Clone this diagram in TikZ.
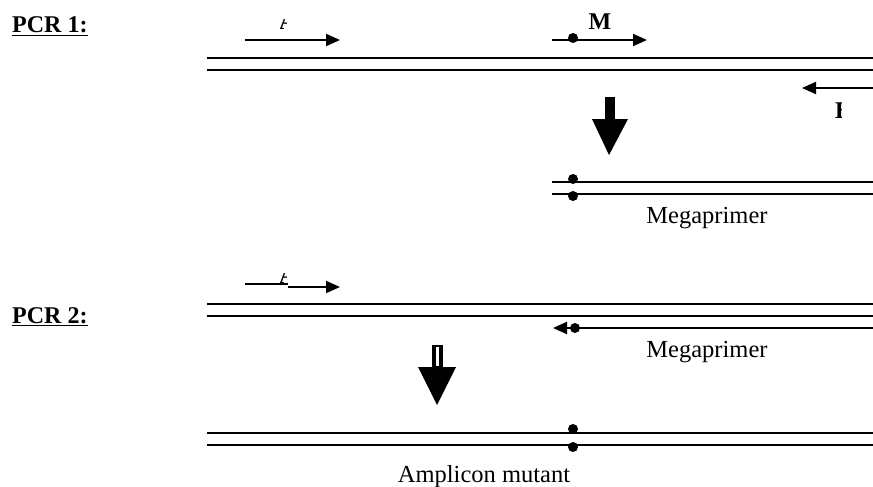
\documentclass[tikz,border=0pt]{standalone}
\usepackage{fontspec}
\setmainfont{Liberation Serif}
\usetikzlibrary{arrows.meta}
\begin{document}
\begin{tikzpicture}[x=1pt,y=-1pt,
  strand/.style={line width=2pt},
  primer/.style={line width=2pt,-{Triangle[length=14pt,width=12pt]}},
  snp/.style={circle,fill=black,inner sep=0pt,minimum size=10pt},
  lbl/.style={inner sep=0pt,font=\fontsize{24.5}{28}\selectfont},
  heading/.style={inner sep=0pt,font=\fontsize{24}{28}\selectfont\bfseries},
  bigarrow/.style={fill=black}]
\useasboundingbox (0,0) rectangle (873,487);

% ---------- PCR 1 ----------
\node[heading,anchor=base west] (pcr1) at (12,33) {\underline{PCR 1:}};

% template strands
\coordinate (s1a) at (207,58); \coordinate (s1b) at (873,58);
\coordinate (s2a) at (207,70); \coordinate (s2b) at (873,70);
\draw[strand] (s1a) -- (s1b);
\draw[strand] (s2a) -- (s2b);

% forward primer A
\coordinate (a1s) at (245,40); \coordinate (a1e) at (340,40);
\draw[primer] (a1s) -- (a1e);
\begin{scope}
  \clip (280,20) rectangle (286.5,31);
  \node[heading,anchor=base west] (a1lbl) at (279,30) {A};
\end{scope}

% mutagenic primer M
\coordinate (m1s) at (552,40); \coordinate (m1e) at (647,40);
\draw[primer] (m1s) -- (m1e);
\node[snp] (m1dot) at (573,38) {};
\node[heading,anchor=base] (mlbl) at (600,30) {M};

% reverse primer B
\coordinate (b1s) at (873,88); \coordinate (b1e) at (802,88);
\draw[primer] (b1s) -- (b1e);
\begin{scope}
  \clip (834,100) rectangle (841,121);
  \node[heading,anchor=base west] (blbl) at (835,118) {B};
\end{scope}

% step arrow
\fill[bigarrow] (605,97) rectangle (615,120);
\fill[bigarrow] (592,119) -- (628,119) -- (609,155) -- cycle;

% megaprimer product
\coordinate (p1a) at (552,182); \coordinate (p1b) at (873,182);
\coordinate (p2a) at (552,194); \coordinate (p2b) at (873,194);
\draw[strand] (p1a) -- (p1b);
\draw[strand] (p2a) -- (p2b);
\node[snp] (pdot1) at (573,179) {};
\node[snp] (pdot2) at (573,196) {};
\node[lbl,anchor=base] (mega1) at (707,223) {Megaprimer};

% ---------- PCR 2 ----------
\node[heading,anchor=base west] (pcr2) at (12,323) {\underline{PCR 2:}};

% forward primer A
\coordinate (a2s) at (245,284); \coordinate (a2k) at (288,284);
\coordinate (a2m) at (288,287); \coordinate (a2e) at (340,287);
\draw[strand] (a2s) -- (a2k);
\draw[primer] (a2m) -- (a2e);
\begin{scope}
  \clip (280,273) rectangle (286.5,284);
  \node[heading,anchor=base west] (a2lbl) at (279,283) {A};
\end{scope}

% template strands
\coordinate (u1a) at (207,304); \coordinate (u1b) at (873,304);
\coordinate (u2a) at (207,316); \coordinate (u2b) at (873,316);
\draw[strand] (u1a) -- (u1b);
\draw[strand] (u2a) -- (u2b);

% megaprimer as reverse primer
\coordinate (mgs) at (873,328); \coordinate (mge) at (553,328);
\draw[primer] (mgs) -- (mge);
\node[snp] (mgdot) at (575,328) {};
\node[lbl,anchor=base] (mega2) at (707,357) {Megaprimer};

% step arrow (split shaft)
\fill[bigarrow] (432,345) rectangle (443,368);
\draw[white,line width=2.5pt] (437.5,347) -- (437.5,366);
\fill[bigarrow] (418,367) -- (456,367) -- (437,405) -- cycle;

% mutant amplicon
\coordinate (c1a) at (207,433); \coordinate (c1b) at (873,433);
\coordinate (c2a) at (207,445); \coordinate (c2b) at (873,445);
\draw[strand] (c1a) -- (c1b);
\draw[strand] (c2a) -- (c2b);
\node[snp] (cdot1) at (573,429) {};
\node[snp] (cdot2) at (573,447) {};
\node[lbl,anchor=base] (amp) at (484,482) {Amplicon mutant};
\end{tikzpicture}
\end{document}
